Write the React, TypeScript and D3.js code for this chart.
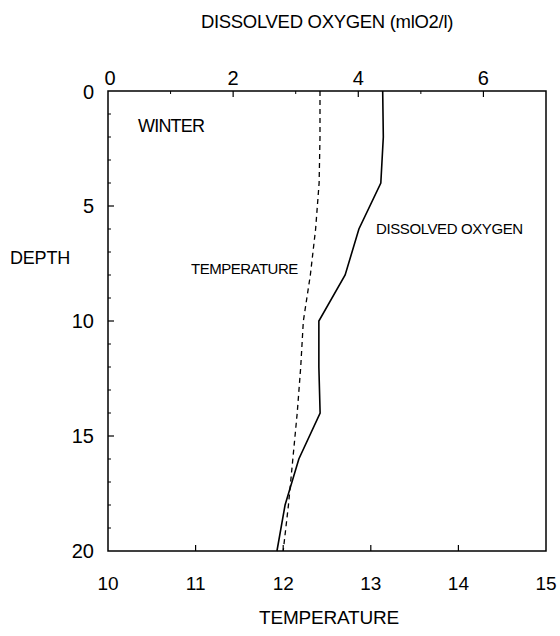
import * as d3 from "d3";

// depth profile, winter
const depths = [0, 2, 4, 6, 8, 10, 12, 14, 16, 18, 20];
const oxygen = [4.39, 4.4, 4.36, 4.01, 3.79, 3.37, 3.37, 3.39, 3.05, 2.83, 2.7];
const temperature = [12.42, 12.42, 12.41, 12.37, 12.31, 12.23, 12.2, 12.16, 12.11, 12.06, 12.0];

const oxygenTicks = [0, 2, 4, 6];
const tempTicks = [10, 11, 12, 13, 14, 15];
const depthTicks = [0, 5, 10, 15, 20];

const W = 560;
const H = 636;
const LEFT = 108;
const RIGHT = 546;
const TOP = 91;
const BOTTOM = 551;
const FONT = "'Liberation Sans', Arial, Helvetica, sans-serif";

export default function App() {
  const y = d3.scaleLinear().domain([0, 20]).range([TOP, BOTTOM]);
  const xO = d3.scaleLinear().domain([0, 7]).range([LEFT, RIGHT]);
  const xT = d3.scaleLinear().domain([10, 15]).range([LEFT, RIGHT]);

  const oxyLine = d3
    .line<number>()
    .x((d) => xO(d))
    .y((_, i) => y(depths[i]));
  const tempLine = d3
    .line<number>()
    .x((d) => xT(d))
    .y((_, i) => y(depths[i]));

  const depthMinor = d3.range(1, 20).filter((d) => d % 5 !== 0);
  const oxyMinor = [1, 3, 5];

  return (
    <svg
      width={W}
      height={H}
      style={{ position: "absolute", left: 0, top: 0, background: "#fff" }}
      fontFamily={FONT}
    >
      {/* frame */}
      <rect
        x={LEFT}
        y={TOP}
        width={RIGHT - LEFT}
        height={BOTTOM - TOP}
        fill="none"
        stroke="#000"
        strokeWidth={1.5}
      />

      {/* left axis ticks */}
      {depthMinor.map((d) => (
        <line key={"dm" + d} x1={LEFT} x2={LEFT + 3} y1={y(d)} y2={y(d)} stroke="#000" strokeWidth={1} />
      ))}
      {depthTicks.slice(1, -1).map((d) => (
        <line key={"dM" + d} x1={LEFT} x2={LEFT + 6} y1={y(d)} y2={y(d)} stroke="#000" strokeWidth={1.2} />
      ))}
      {depthTicks.map((d) => (
        <text
          key={"dl" + d}
          x={LEFT - 14}
          y={d === 0 ? y(d) + 1 : y(d)}
          dy="0.35em"
          textAnchor="end"
          fontSize={20}
        >
          {d}
        </text>
      ))}

      {/* top axis (oxygen) */}
      {oxyMinor.map((d) => (
        <line key={"om" + d} x1={xO(d)} x2={xO(d)} y1={TOP} y2={TOP + 3} stroke="#000" strokeWidth={1} />
      ))}
      {oxygenTicks.slice(1).map((d) => (
        <line key={"oM" + d} x1={xO(d)} x2={xO(d)} y1={TOP} y2={TOP + 6} stroke="#000" strokeWidth={1.2} />
      ))}
      {oxygenTicks.map((d) => (
        <text key={"ol" + d} x={d === 0 ? xO(d) + 2 : xO(d)} y={TOP - 6} textAnchor="middle" fontSize={20}>
          {d}
        </text>
      ))}

      {/* bottom axis (temperature) */}
      {tempTicks.slice(1, -1).map((d) => (
        <line key={"tM" + d} x1={xT(d)} x2={xT(d)} y1={BOTTOM} y2={BOTTOM - 6} stroke="#000" strokeWidth={1.2} />
      ))}
      {tempTicks.map((d) => (
        <text key={"tl" + d} x={xT(d)} y={BOTTOM + 39} textAnchor="middle" fontSize={19}>
          {d}
        </text>
      ))}

      {/* axis titles */}
      <text x={327} y={28} textAnchor="middle" fontSize={18.5} letterSpacing={-0.3}>
        DISSOLVED OXYGEN (mlO2/l)
      </text>
      <text x={329} y={624} textAnchor="middle" fontSize={19} letterSpacing={-0.2}>
        TEMPERATURE
      </text>
      <text x={10} y={264} fontSize={18} letterSpacing={-0.2}>
        DEPTH
      </text>

      {/* data */}
      <path d={tempLine(temperature) ?? ""} fill="none" stroke="#000" strokeWidth={1.3} strokeDasharray="5,4" />
      <path d={oxyLine(oxygen) ?? ""} fill="none" stroke="#000" strokeWidth={1.6} />

      {/* annotations */}
      <text x={138} y={132} fontSize={18} letterSpacing={-0.8}>
        WINTER
      </text>
      <text x={376} y={234} fontSize={15} letterSpacing={-0.4}>
        DISSOLVED OXYGEN
      </text>
      <text x={191} y={274} fontSize={15} letterSpacing={-0.5}>
        TEMPERATURE
      </text>
    </svg>
  );
}
